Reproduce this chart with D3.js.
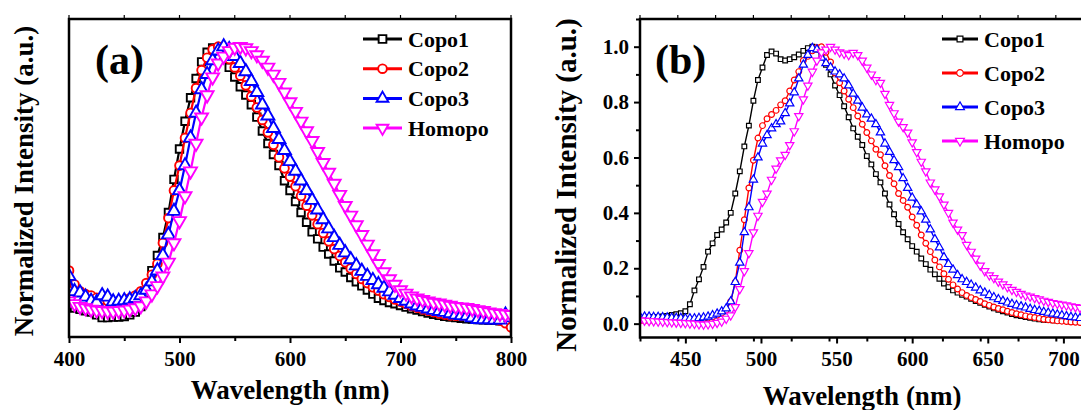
<!DOCTYPE html>
<html>
<head>
<meta charset="utf-8">
<script src="https://cdn.jsdelivr.net/npm/d3@7"></script>
<style>
body { margin: 0; background: #fff; overflow: hidden; }
svg { display: block; }
svg text { font-family: 'Liberation Serif', 'Times New Roman', Tinos, 'Nimbus Roman', 'DejaVu Serif', serif; font-weight: bold; fill: #000; }
</style>
</head>
<body>
<div id="playground"></div>
<script>
// ---- data (normalized PL intensity)

// wavelength grids (nm)
var waveA = d3.range(400, 801, 5)
var waveB = d3.range(420, 712, 3)

var names = ['Copo1', 'Copo2', 'Copo3', 'Homopo']

// panel (a)
var copo1A = [
	.060,.055,.050,.045,.040,.030,.020,.020,.022,.022,
	.024,.030,.040,.060,.110,.190,.245,.310,.400,.520,
	.630,.730,.815,.885,.945,.980,.995,.990,.955,.925,
	.890,.855,.825,.790,.745,.695,.650,.610,.570,.515,
	.480,.440,.400,.365,.330,.305,.275,.250,.225,.200,
	.185,.165,.150,.135,.120,.105,.090,.082,.075,.070,
	.064,.058,.052,.047,.042,.037,.032,.028,.025,.022,
	.020,.018,.016,.015,.013,.012,.011,.010,.009,.008,
	.007]
var copo2A = [
	.190,.140,.115,.105,.100,.092,.085,.080,.076,.078,
	.080,.090,.100,.115,.145,.175,.215,.290,.380,.480,
	.570,.670,.760,.850,.915,.960,.990,1.00,.980,.955,
	.925,.895,.860,.820,.780,.735,.690,.645,.600,.560,
	.530,.495,.460,.425,.390,.358,.326,.296,.268,.243,
	.220,.198,.178,.160,.145,.130,.118,.105,.095,.086,
	.078,.070,.062,.056,.050,.045,.040,.035,.031,.028,
	.027,.026,.028,.040,.030,.022,.020,.015,.010,.000,
	-.015]
var copo3A = [
	.170,.115,.110,.095,.080,.075,.100,.095,.078,.080,
	.082,.085,.090,.100,.120,.150,.190,.245,.320,.405,
	.480,.570,.670,.760,.845,.900,.950,.985,1.00,.990,
	.965,.940,.910,.875,.835,.790,.750,.705,.665,.625,
	.585,.550,.515,.480,.445,.410,.375,.342,.310,.282,
	.255,.230,.208,.188,.170,.155,.140,.127,.114,.102,
	.090,.080,.070,.063,.058,.052,.047,.043,.040,.035,
	.030,.028,.026,.020,.014,.013,.013,.012,.012,.030,
	.020]
var homopoA = [
	.080,.070,.060,.055,.050,.047,.045,.043,.043,.045,
	.047,.050,.055,.062,.080,.105,.135,.170,.220,.290,
	.370,.460,.550,.650,.745,.825,.890,.940,.965,.985,
	.997,1.00,.995,.985,.970,.950,.925,.900,.870,.835,
	.800,.765,.730,.695,.660,.620,.580,.545,.505,.465,
	.425,.390,.355,.320,.285,.250,.215,.185,.160,.140,
	.120,.108,.098,.090,.085,.080,.075,.072,.068,.064,
	.060,.058,.056,.052,.048,.045,.040,.037,.034,.032,
	.030]

// panel (b)
var copo1B = [
	.020,.021,.022,.023,.024,.026,.028,.031,.034,.038,
	.045,.070,.120,.160,.205,.260,.290,.320,.340,.365,
	.400,.470,.550,.640,.715,.805,.880,.925,.970,.983,
	.975,.955,.950,.955,.962,.972,.985,.995,1.00,.990,
	.965,.935,.900,.860,.825,.785,.745,.705,.675,.645,
	.605,.575,.540,.510,.470,.430,.395,.360,.330,.305,
	.280,.260,.235,.215,.195,.178,.162,.145,.132,.120,
	.112,.104,.098,.090,.082,.075,.068,.062,.055,.050,
	.045,.040,.035,.030,.027,.024,.021,.018,.016,.014,
	.013,.012,.011,.010,.009,.008,.008,.007]
var copo2B = [
	.010,.010,.010,.011,.011,.012,.012,.013,.013,.014,
	.014,.015,.015,.016,.018,.020,.024,.030,.038,.048,
	.080,.150,.265,.375,.490,.590,.670,.715,.740,.755,
	.770,.790,.805,.840,.880,.910,.950,.965,.985,.997,
	1.00,.980,.945,.905,.870,.840,.810,.780,.750,.720,
	.690,.660,.630,.610,.570,.535,.505,.470,.445,.420,
	.385,.355,.320,.290,.260,.230,.205,.180,.160,.140,
	.125,.112,.102,.094,.087,.080,.072,.066,.060,.055,
	.050,.045,.040,.036,.032,.028,.025,.022,.019,.016,
	.014,.012,.010,.009,.008,.006,.005,.004]
var copo3B = [
	.025,.025,.025,.024,.024,.023,.022,.021,.020,.020,
	.019,.019,.019,.020,.022,.025,.030,.036,.044,.055,
	.080,.150,.220,.330,.420,.520,.600,.650,.680,.705,
	.720,.730,.760,.795,.835,.885,.935,.970,.995,.990,
	.960,.940,.925,.910,.900,.885,.860,.830,.805,.780,
	.755,.740,.720,.690,.650,.620,.590,.565,.525,.490,
	.455,.430,.405,.375,.340,.305,.275,.240,.215,.195,
	.175,.160,.150,.140,.130,.120,.112,.103,.095,.088,
	.082,.076,.071,.066,.062,.058,.053,.049,.046,.042,
	.039,.036,.033,.030,.027,.024,.022,.020]
var homopoB = [
	.012,.011,.010,.009,.008,.007,.006,.005,.004,.003,
	.002,.001,.000,-.002,-.003,-.002,.000,.003,.008,.018,
	.030,.060,.125,.190,.255,.330,.390,.440,.470,.520,
	.560,.590,.610,.645,.695,.750,.810,.860,.910,.950,
	.980,.990,1.00,.990,.980,.975,.970,.978,.970,.950,
	.925,.900,.880,.870,.830,.790,.760,.730,.710,.690,
	.655,.620,.585,.550,.510,.485,.460,.430,.400,.365,
	.340,.320,.285,.260,.235,.210,.190,.175,.165,.152,
	.142,.132,.122,.115,.108,.102,.098,.093,.088,.083,
	.079,.075,.072,.069,.066,.063,.060,.057]

var xTicksA = [400, 500, 600, 700, 800]
var xTicksB = [450, 500, 550, 600, 650, 700]
var yTicksB = [0, 0.2, 0.4, 0.6, 0.8, 1.0]

// ---- settings

var settings = {}
settings.width = 1081
settings.height = 410
settings.colors = ['#000000', '#ff0000', '#0000ff', '#ff00ff']
settings.symbols = [d3.symbolSquare, d3.symbolCircle, d3.symbolTriangle, d3.symbolTriangle]
settings.frame_width = 2.5

var svg = d3.select('#playground').append('svg')
	.attr('width', settings.width)
	.attr('height', settings.height)

var panels = [
	{
		id: 'a', left: 69, right: 511, top: 19, bottom: 337,
		domain: [400, 800], wave: waveA,
		series: [copo1A, copo2A, copo3A, homopoA],
		xTicks: xTicksA, xMinor: 50, yTicks: null,
		markerSize: [56, 60, 72, 72], markerStroke: 1.9, lineWidth: 2.2,
		label: '(a)', labelX: 95,
		legend: {x0: 363, x1: 402, y: 39, dy: 29.7, size: 60, font: 22},
		titleX: 290, titleY: 399, yTitleX: 33, yTitleY: 181, yTitleSize: 27
	},
	{
		id: 'b', left: 640, right: 1139, top: 19, bottom: 337.5,
		domain: [420, 750], wave: waveB,
		series: [copo1B, copo2B, copo3B, homopoB],
		xTicks: xTicksB, xMinor: 25, yTicks: yTicksB,
		markerSize: [22, 26, 30, 30], markerStroke: 1.2, lineWidth: 1.4,
		label: '(b)', labelX: 655,
		legend: {x0: 942, x1: 978, y: 39, dy: 34, size: 34, font: 22},
		titleX: 862, titleY: 405, yTitleX: 576, yTitleY: 185, yTitleSize: 29
	}
]

panels.forEach(drawPanel)

function drawPanel(p) {
	var x = d3.scaleLinear().domain(p.domain).range([p.left, p.right])
	var y = d3.scaleLinear().domain([-0.05, 1.1]).range([p.bottom, p.top])
	var g = svg.append('g')

	svg.append('clipPath').attr('id', 'clip-' + p.id)
		.append('rect')
		.attr('x', p.left).attr('y', p.top)
		.attr('width', p.right - p.left).attr('height', p.bottom - p.top)

	var plot = g.append('g').attr('clip-path', 'url(#clip-' + p.id + ')')

	// series: line then hollow markers
	p.series.forEach(function(vals, i){
		var pts = vals.map(function(v, k){ return [p.wave[k], v] })
		var line = d3.line().x(function(d){ return x(d[0]) }).y(function(d){ return y(d[1]) })
		plot.append('path')
			.attr('d', line(pts))
			.attr('fill', 'none')
			.attr('stroke', settings.colors[i])
			.attr('stroke-width', p.lineWidth)
		var sym = d3.symbol().type(settings.symbols[i]).size(p.markerSize[i])
		plot.selectAll(null).data(pts).enter().append('path')
			.attr('d', sym)
			.attr('transform', function(d){
				return 'translate(' + x(d[0]) + ',' + y(d[1]) + ')' + (i === 3 ? ' rotate(180)' : '')
			})
			.attr('fill', '#fff')
			.attr('stroke', settings.colors[i])
			.attr('stroke-width', p.markerStroke)
	})

	// bottom axis: minor then major ticks
	var minor = d3.range(p.domain[0], p.domain[1] + 1, p.xMinor).filter(function(v){ return p.xTicks.indexOf(v) < 0 })
	var bottom = g.append('g').attr('transform', 'translate(0,' + p.bottom + ')')
		.call(d3.axisBottom(x).tickValues(minor).tickSize(4).tickFormat(''))
	bottom.select('.domain').remove()
	var bottomMajor = g.append('g').attr('transform', 'translate(0,' + p.bottom + ')')
		.call(d3.axisBottom(x).tickValues(p.xTicks).tickSize(6).tickPadding(8).tickFormat(d3.format('d')))
	bottomMajor.select('.domain').remove()
	bottomMajor.selectAll('text').attr('font-size', 21)

	// top ticks
	var topTicks = d3.range(p.domain[0], p.domain[1] + 1, p.xMinor)
	g.selectAll(null).data(topTicks).enter().append('line')
		.attr('x1', function(d){ return x(d) }).attr('x2', function(d){ return x(d) })
		.attr('y1', p.top).attr('y2', p.top - 4)
		.attr('stroke', '#000').attr('stroke-width', 1.2)

	// left axis (panel b only)
	if (p.yTicks) {
		var left = g.append('g').attr('transform', 'translate(' + p.left + ',0)')
			.call(d3.axisLeft(y).tickValues([0.1, 0.3, 0.5, 0.7, 0.9, 1.1]).tickSize(4).tickFormat(''))
		left.select('.domain').remove()
		var leftMajor = g.append('g').attr('transform', 'translate(' + p.left + ',0)')
			.call(d3.axisLeft(y).tickValues(p.yTicks).tickSize(6).tickPadding(5).tickFormat(d3.format('.1f')))
		leftMajor.select('.domain').remove()
		leftMajor.selectAll('text').attr('font-size', 21)
	}
	g.selectAll('.tick line').attr('stroke-width', 2)

	// frame
	g.append('rect')
		.attr('x', p.left).attr('y', p.top)
		.attr('width', p.right - p.left).attr('height', p.bottom - p.top)
		.attr('fill', 'none')
		.attr('stroke', '#000')
		.attr('stroke-width', settings.frame_width)

	// panel label
	g.append('text')
		.attr('x', p.labelX).attr('y', 74)
		.attr('font-size', 42)
		.text(p.label)

	// legend
	names.forEach(function(name, i){
		var ly = p.legend.y + i * p.legend.dy
		var lx = (p.legend.x0 + p.legend.x1) / 2
		g.append('line')
			.attr('x1', p.legend.x0).attr('x2', p.legend.x1)
			.attr('y1', ly).attr('y2', ly)
			.attr('stroke', settings.colors[i])
			.attr('stroke-width', 3)
		g.append('path')
			.attr('d', d3.symbol().type(settings.symbols[i]).size(p.legend.size)())
			.attr('transform', 'translate(' + lx + ',' + ly + ')' + (i === 3 ? ' rotate(180)' : ''))
			.attr('fill', '#fff')
			.attr('stroke', settings.colors[i])
			.attr('stroke-width', p.markerStroke)
		g.append('text')
			.attr('x', p.legend.x1 + 6).attr('y', ly + 7.5)
			.attr('font-size', p.legend.font)
			.text(name)
	})

	// axis titles
	g.append('text')
		.attr('x', p.titleX)
		.attr('y', p.titleY)
		.attr('text-anchor', 'middle')
		.attr('font-size', 27)
		.text('Wavelength (nm)')

	g.append('text')
		.attr('transform', 'translate(' + p.yTitleX + ',' + p.yTitleY + ') rotate(-90)')
		.attr('text-anchor', 'middle')
		.attr('font-size', p.yTitleSize)
		.text('Normalized Intensity (a.u.)')
}
</script>
</body>
</html>
